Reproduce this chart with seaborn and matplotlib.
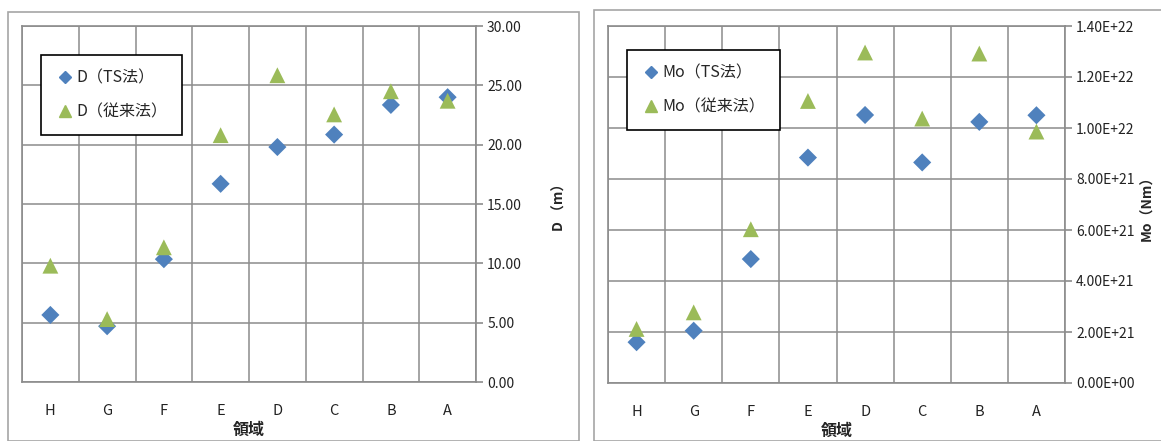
import matplotlib
matplotlib.use("Agg")
import matplotlib.pyplot as plt
import seaborn as sns
import pandas as pd
from matplotlib.patches import Rectangle
from matplotlib.ticker import FixedLocator, FuncFormatter

sns.set_style("white")
plt.rcParams['font.family'] = ['Noto Sans CJK JP', 'DejaVu Sans']

regions = ["H", "G", "F", "E", "D", "C", "B", "A"]
d_ts = [5.65, 4.7, 10.35, 16.7, 19.8, 20.85, 23.35, 24.0]
d_conv = [9.8, 5.3, 11.35, 20.8, 25.85, 22.55, 24.5, 23.7]
mo_ts = [1.6e21, 2.05e21, 4.86e21, 8.84e21, 1.051e22, 8.65e21, 1.024e22, 1.05e22]
mo_conv = [2.12e21, 2.77e21, 6.03e21, 1.106e22, 1.296e22, 1.037e22, 1.292e22, 9.86e21]

BLUE = "#4F81BD"
GREEN = "#9BBB59"
GRID = "#8C8C8C"

fig = plt.figure(figsize=(11.61, 4.41), dpi=100)

# chart area borders
fig.patches.append(Rectangle((8/1161, 0), 571/1161, 1 - 12/441, transform=fig.transFigure,
                             fill=False, edgecolor="#A6A6A6", linewidth=1.2))
fig.patches.append(Rectangle((594/1161, 0), 570/1161, 1 - 10/441, transform=fig.transFigure,
                             fill=False, edgecolor="#A6A6A6", linewidth=1.2))

ax1 = fig.add_axes([22/1161, 1 - 382/441, 454/1161, 356/441])
ax2 = fig.add_axes([608/1161, 1 - 383/441, 457/1161, 357/441])


def draw(ax, ts, conv, lab_ts, lab_conv, ymax, ystep, fmt, ylabel, legbox, ylabpad):
    df = pd.DataFrame({"region": regions * 2,
                       "value": list(ts) + list(conv),
                       "series": [lab_ts] * len(regions) + [lab_conv] * len(regions)})
    sns.scatterplot(data=df, x="region", y="value", hue="series", style="series",
                    size="series", sizes={lab_ts: 85, lab_conv: 130},
                    palette={lab_ts: BLUE, lab_conv: GREEN},
                    markers={lab_ts: "D", lab_conv: "^"},
                    linewidth=0, ax=ax, zorder=3, legend=False)
    ax.set_xlim(-0.5, len(regions) - 0.5)
    ax.set_ylim(0, ymax)
    n = int(round(ymax / ystep))
    ax.yaxis.set_major_locator(FixedLocator([i * ystep for i in range(n + 1)]))
    ax.yaxis.set_major_formatter(FuncFormatter(fmt))
    ax.yaxis.tick_right()
    ax.yaxis.set_label_position("right")
    ax.set_xticks(range(len(regions)))
    ax.set_xticklabels(regions)
    ax.set_xticks([i - 0.5 for i in range(len(regions) + 1)], minor=True)
    ax.tick_params(axis="x", which="major", length=0, pad=16, labelsize=10.5, colors="#222222")
    ax.tick_params(axis="x", which="minor", length=5, width=1.2, color=GRID, direction="out")
    ax.tick_params(axis="y", which="major", length=5, width=1.2, color=GRID, direction="out",
                   pad=3, labelsize=10, labelcolor="#222222")
    ax.grid(True, which="minor", axis="x", color=GRID, linewidth=1.1)
    ax.grid(True, which="major", axis="y", color=GRID, linewidth=1.1)
    ax.set_axisbelow(True)
    for sp in ax.spines.values():
        sp.set_color(GRID)
        sp.set_linewidth(1.2)
    ax.set_xlabel("領域", fontsize=11.5, fontweight="bold", labelpad=3)
    ax.set_ylabel(ylabel, fontsize=10, fontweight="bold", labelpad=ylabpad)
    h1 = plt.Line2D([], [], linestyle="none", marker="D", color=BLUE, markersize=6.5)
    h2 = plt.Line2D([], [], linestyle="none", marker="^", color=GREEN, markersize=8.5)
    leg = ax.legend([h1, h2], [lab_ts, lab_conv], loc="upper left", bbox_to_anchor=legbox,
                    frameon=True, fancybox=False, edgecolor="black", fontsize=11.5,
                    labelspacing=1.05, handletextpad=0.1, borderpad=0.9,
                    handlelength=1.2, framealpha=1)
    leg.get_frame().set_linewidth(1.2)


draw(ax1, d_ts, d_conv, "D（TS法）", "D（従来法）", 30, 5,
     lambda v, p: f"{v:.2f}", "D （m）", (0.025, 0.94), 22)


def sci(v, p):
    if v == 0:
        return "0.00E+00"
    return f"{v:.2E}"


draw(ax2, mo_ts, mo_conv, "Mo（TS法）", "Mo（従来法）", 1.4e22, 2e21,
     sci, "Mo（Nm）", (0.025, 0.955), 4)

fig.savefig("out.png", dpi=100)
